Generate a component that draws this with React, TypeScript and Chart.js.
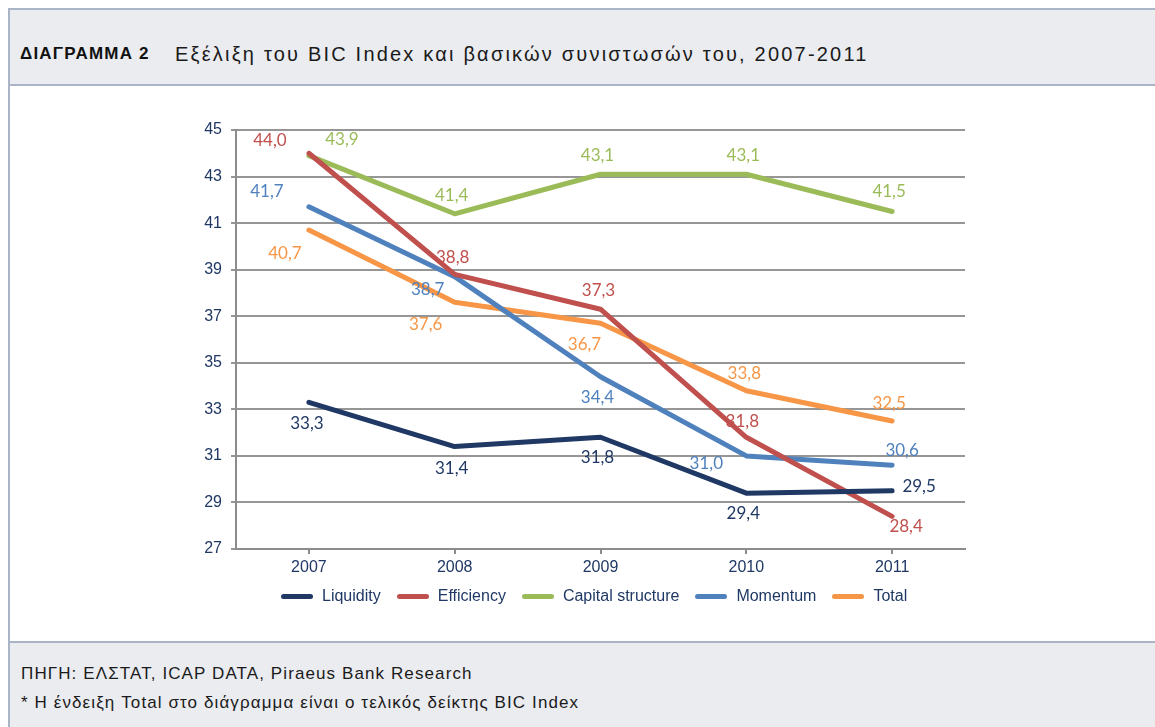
import React, { useEffect, useLayoutEffect, useRef } from "react";
import { Chart, registerables } from "chart.js";

Chart.register(...registerables);

// ---- data ----
const categories = ["2007", "2008", "2009", "2010", "2011"];
const liquidity = [33.3, 31.4, 31.8, 29.4, 29.5];
const efficiency = [44.0, 38.8, 37.3, 31.8, 28.4];
const capitalStructure = [43.9, 41.4, 43.1, 43.1, 41.5];
const momentum = [41.7, 38.7, 34.4, 31.0, 30.6];
const total = [40.7, 37.6, 36.7, 33.8, 32.5];
const seriesNames = ["Liquidity", "Efficiency", "Capital structure", "Momentum", "Total"];
const yMin = 27;
const yMax = 45;
const yStep = 2;

// ---- styles ----
const seriesColors = ["#1F3864", "#C0504D", "#9BBB59", "#4F81BD", "#F79646"];
const NAVY = "#1F3864";
// label offsets (px) relative to each point, per series
const labelOffsets: [number, number][][] = [
  [[-2, 21], [-3, 22], [-3, 20], [-3, 20], [27, -4]],
  [[-39, -13], [-2, -17], [-2, -19], [-4, -16], [14, 10]],
  [[33, -16], [-3, -18], [-3, -19], [-3, -19], [-3, -20]],
  [[-42, -15], [-27, 13], [-3, 21], [-40, 8], [10, -15]],
  [[-24, 23], [-29, 22], [-16, 21], [-2, -17], [-3, -17]],
];

const fmt = (v: number) => v.toFixed(1).replace(".", ",");

const labelPlugin = {
  id: "pointLabels",
  afterDatasetsDraw(chart: any) {
    const ctx = chart.ctx;
    ctx.save();
    ctx.font = "17px Lato";
    ctx.textAlign = "center";
    ctx.textBaseline = "middle";
    chart.data.datasets.forEach((ds: any, di: number) => {
      const meta = chart.getDatasetMeta(di);
      meta.data.forEach((pt: any, i: number) => {
        const [dx, dy] = labelOffsets[di][i];
        ctx.fillStyle = seriesColors[di];
        ctx.fillText(fmt(ds.data[i]), pt.x + dx, pt.y + dy);
      });
    });
    ctx.restore();
  },
};

const BORDER = "#A9B4C6";
const PANEL = "#EAECF0";

export default function App() {
  const canvasRef = useRef<HTMLCanvasElement | null>(null);

  useLayoutEffect(() => {
    document.body.style.margin = "0";
  }, []);

  useEffect(() => {
    const canvas = canvasRef.current;
    if (!canvas) return;
    const seriesData = [liquidity, efficiency, capitalStructure, momentum, total];
    const chart = new Chart(canvas, {
      type: "line",
      data: {
        labels: categories,
        datasets: seriesData.map((d, i) => ({
          label: seriesNames[i],
          data: d,
          borderColor: seriesColors[i],
          backgroundColor: seriesColors[i],
          borderWidth: 5,
          pointRadius: 0,
          tension: 0,
          borderCapStyle: "round" as const,
          borderJoinStyle: "round" as const,
          fill: false,
        })),
      },
      options: {
        animation: false,
        responsive: false,
        layout: { padding: { left: 196, right: 190, top: 130, bottom: 138 } },
        plugins: { legend: { display: false }, tooltip: { enabled: false } },
        scales: {
          x: {
            type: "category",
            offset: true,
            grid: {
              display: true,
              drawOnChartArea: false,
              drawTicks: true,
              tickLength: 5,
              color: "#8c8c8c",
              lineWidth: 2,
            },
            border: { display: true, color: "#8c8c8c", width: 2 },
            ticks: { color: NAVY, font: { family: "Liberation Sans", size: 16 }, padding: 4 },
            afterFit: (s: any) => {
              s.height = 40;
            },
          },
          y: {
            min: yMin,
            max: yMax,
            ticks: {
              stepSize: yStep,
              color: NAVY,
              font: { family: "Liberation Sans", size: 16 },
              padding: 9,
            },
            grid: { color: "#969696", lineWidth: 2, tickLength: 5, drawTicks: true },
            border: { display: true, color: "#8c8c8c", width: 2 },
            afterFit: (s: any) => {
              s.width = 40;
            },
          },
        },
      },
      plugins: [labelPlugin],
    });
    return () => chart.destroy();
  }, []);

  const legendItem = (name: string, color: string, i: number) => (
    <div key={name} style={{ display: "flex", alignItems: "center", marginRight: i < seriesNames.length - 1 ? 16 : 0 }}>
      <span style={{ display: "inline-block", width: 32, height: 5, borderRadius: 3, background: color, marginRight: 9 }} />
      <span>{name}</span>
    </div>
  );

  return (
    <div style={{ position: "relative", width: 1155, height: 727, overflow: "hidden", background: "#fff", fontFamily: "'Liberation Sans', Arial, sans-serif" }}>
      <div style={{ position: "absolute", left: 8, top: 8, width: 1147, height: 78, boxSizing: "border-box", background: PANEL, borderTop: `2px solid ${BORDER}`, borderBottom: `2px solid ${BORDER}`, borderLeft: `2px solid ${BORDER}` }} />
      <div style={{ position: "absolute", left: 8, top: 86, width: 2, height: 555, background: BORDER }} />
      <div style={{ position: "absolute", left: 8, top: 641, width: 1147, height: 86, boxSizing: "border-box", background: PANEL, borderTop: `2px solid ${BORDER}`, borderLeft: `2px solid ${BORDER}` }} />
      <div style={{ position: "absolute", left: 20, top: 44, fontSize: 17, lineHeight: "20px", fontWeight: "bold", letterSpacing: "1.2px", color: "#111", whiteSpace: "nowrap" }}>ΔΙΑΓΡΑΜΜΑ 2</div>
      <div style={{ position: "absolute", left: 175, top: 42, fontSize: 20, lineHeight: "24px", letterSpacing: "2.2px", color: "#1a1a1a", whiteSpace: "nowrap" }}>Εξέλιξη του BIC Index και βασικών συνιστωσών του, 2007-2011</div>
      <div style={{ position: "absolute", left: 21, top: 664, fontSize: 17, lineHeight: "20px", letterSpacing: "1.1px", color: "#1a1a1a", whiteSpace: "nowrap" }}>ΠΗΓΗ: ΕΛΣΤΑΤ, ICAP DATA, Piraeus Bank Research</div>
      <div style={{ position: "absolute", left: 21, top: 693, fontSize: 17, lineHeight: "20px", letterSpacing: "1.1px", color: "#1a1a1a", whiteSpace: "nowrap" }}>* Η ένδειξη Total στο διάγραμμα είναι ο τελικός δείκτης BIC Index</div>
      <canvas ref={canvasRef} width={1155} height={727} style={{ position: "absolute", left: 0, top: 0, width: 1155, height: 727 }} />
      <div style={{ position: "absolute", left: 281, top: 586, height: 20, display: "flex", alignItems: "center", fontSize: 16, color: NAVY, whiteSpace: "nowrap" }}>
        {seriesNames.map((n, i) => legendItem(n, seriesColors[i], i))}
      </div>
    </div>
  );
}
